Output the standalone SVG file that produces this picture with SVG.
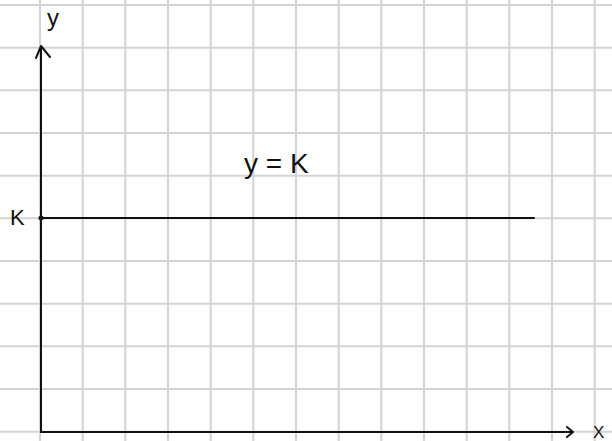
<svg xmlns="http://www.w3.org/2000/svg" width="612" height="441" viewBox="0 0 612 441">
<style>
.grid line{stroke:#d3d3d3;stroke-width:2}
.ax{stroke:#111;stroke-width:2;fill:none;stroke-linecap:round;stroke-linejoin:round}
.lbl{font-family:"Liberation Sans",Arial,sans-serif;fill:#111}
</style>
<rect width="612" height="441" fill="#fff"/>
<g id="grid" class="grid">
<line x1="40" y1="0" x2="40" y2="441"/>
<line x1="82.7" y1="0" x2="82.7" y2="441"/>
<line x1="125.3" y1="0" x2="125.3" y2="441"/>
<line x1="168" y1="0" x2="168" y2="441"/>
<line x1="210.7" y1="0" x2="210.7" y2="441"/>
<line x1="253.3" y1="0" x2="253.3" y2="441"/>
<line x1="296" y1="0" x2="296" y2="441"/>
<line x1="338.7" y1="0" x2="338.7" y2="441"/>
<line x1="381.3" y1="0" x2="381.3" y2="441"/>
<line x1="424" y1="0" x2="424" y2="441"/>
<line x1="466.7" y1="0" x2="466.7" y2="441"/>
<line x1="509.3" y1="0" x2="509.3" y2="441"/>
<line x1="552" y1="0" x2="552" y2="441"/>
<line x1="594.7" y1="0" x2="594.7" y2="441"/>
<line x1="0" y1="5" x2="612" y2="5"/>
<line x1="0" y1="47.7" x2="612" y2="47.7"/>
<line x1="0" y1="90.3" x2="612" y2="90.3"/>
<line x1="0" y1="133" x2="612" y2="133"/>
<line x1="0" y1="175.7" x2="612" y2="175.7"/>
<line x1="0" y1="218.3" x2="612" y2="218.3"/>
<line x1="0" y1="261" x2="612" y2="261"/>
<line x1="0" y1="303.7" x2="612" y2="303.7"/>
<line x1="0" y1="346.3" x2="612" y2="346.3"/>
<line x1="0" y1="389" x2="612" y2="389"/>
<line x1="0" y1="431.7" x2="612" y2="431.7"/>
</g>
<g id="connectors">
<path class="ax" d="M41 432 V46 M36 58 L41 46 L50 57"/>
<path class="ax" d="M41 432 H573 M567 427 L573 432 L567 437"/>
<path class="ax" d="M41 218 H534"/>
<circle cx="41" cy="218" r="2.5" fill="#111"/>
</g>
<g id="labels">
<text class="lbl" x="47" y="26" font-size="24">y</text>
<text class="lbl" x="10" y="225" font-size="22">K</text>
<text class="lbl" x="244" y="173" font-size="28">y = K</text>
<text class="lbl" x="593" y="438" font-size="17">X</text>
</g>
</svg>
